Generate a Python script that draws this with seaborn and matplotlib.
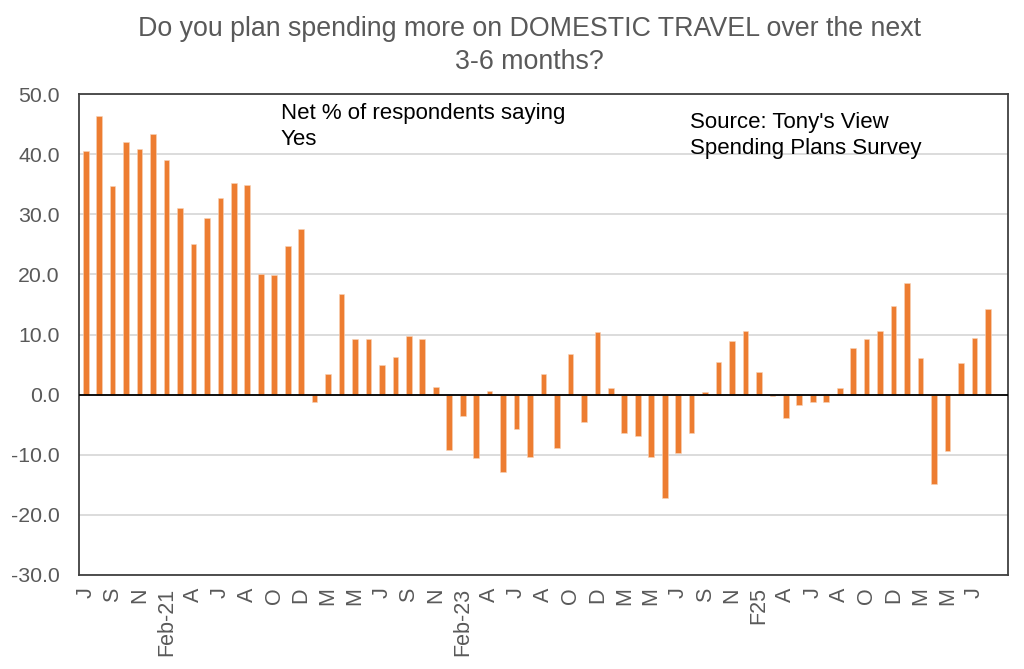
import matplotlib
matplotlib.use("Agg")
import matplotlib.pyplot as plt
import seaborn as sns
import pandas as pd
import numpy as np

# ---- data ----
net_yes = [40.6, 46.3, 34.7, 42.0, 40.8, 43.4, 39.1, 31.1, 25.0, 29.3,
           32.7, 35.2, 34.9, 20.0, 19.9, 24.7, 27.6, -1.2, 3.5, 16.7,
           9.3, 9.3, 5.0, 6.2, 9.8, 9.2, 1.3, -9.2, -3.6, -10.5,
           0.6, -12.8, -5.8, -10.4, 3.5, -8.8, 6.7, -4.6, 10.4, 1.1,
           -6.3, -6.8, -10.4, -17.2, -9.7, -6.3, 0.4, 5.4, 9.0, 10.6,
           3.7, -0.3, -3.9, -1.8, -1.2, -1.2, 1.1, 7.7, 9.2, 10.6,
           14.8, 18.6, 6.1, -14.9, -9.3, 5.2, 9.4, 14.3]
survey_no = list(range(len(net_yes)))
tick_labels = ["J", "S", "N", "Feb-21", "A", "J", "A", "O", "D", "M", "M", "J",
               "S", "N", "Feb-23", "A", "J", "A", "O", "D", "M", "M", "J", "S",
               "N", "F25", "A", "J", "A", "O", "D", "M", "M", "J"]
y_ticks = [-30, -20, -10, 0, 10, 20, 30, 40, 50]

title = "Do you plan spending more on DOMESTIC TRAVEL over the next\n3-6 months?"
note_left = "Net % of respondents saying\nYes"
note_right = "Source: Tony's View\nSpending Plans Survey"

df = pd.DataFrame({"survey": survey_no, "net": net_yes})

sns.set_theme(style="white")
plt.rcParams["font.family"] = ["Liberation Sans", "DejaVu Sans"]

W, H = 1024, 669
fig = plt.figure(figsize=(W / 100, H / 100), dpi=100)
ax = fig.add_axes([79 / W, (H - 575) / H, (1008 - 79) / W, (575 - 94) / H])

sns.barplot(data=df, x="survey", y="net", order=survey_no, color="#ED7D31",
            saturation=1, width=0.42, ax=ax, edgecolor="#F8D3B8", linewidth=0.4)

ax.set_xlim(-0.5, len(net_yes) + 0.5)
ax.set_ylim(-30, 50)
ax.set_yticks(y_ticks)
ax.set_yticklabels([f"{v:.1f}" for v in y_ticks])
ax.set_xticks(survey_no[::2])
ax.set_xticklabels(tick_labels, rotation=90)
ax.set_xlabel("")
ax.set_ylabel("")

ax.yaxis.grid(True, color="#D9D9D9", linewidth=1.3)
ax.set_axisbelow(True)
ax.axhline(0, color="black", linewidth=1.3, zorder=3)

for s in ax.spines.values():
    s.set_visible(True)
    s.set_color("#404040")
    s.set_linewidth(1.3)

ax.tick_params(axis="y", length=0, pad=14, labelsize=15.3, labelcolor="#595959")
ax.tick_params(axis="x", length=0, pad=9, labelsize=15.5, labelcolor="#595959")

fig.text(529 / W, 1 - 16 / H, title, ha="center", va="top", fontsize=19.3,
         color="#595959", linespacing=1.35)
fig.text(281 / W, 1 - 103 / H, note_left, ha="left", va="top", fontsize=16,
         color="black", linespacing=1.32)
fig.text(690 / W, 1 - 112 / H, note_right, ha="left", va="top", fontsize=16,
         color="black", linespacing=1.32)

fig.savefig("out.png", dpi=100)
